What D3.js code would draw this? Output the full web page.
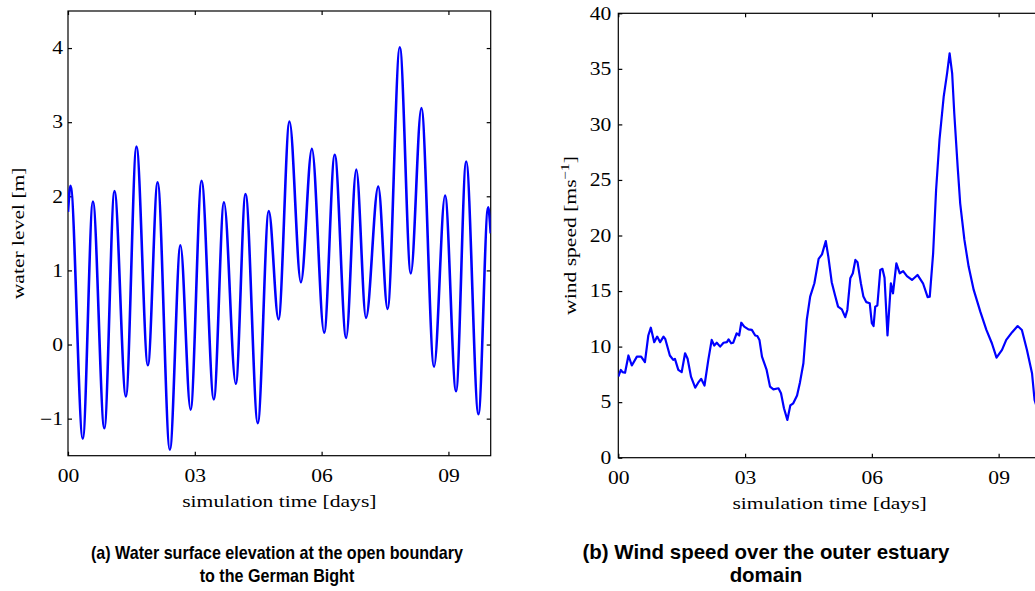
<!DOCTYPE html>
<html>
<head>
<meta charset="utf-8">
<script src="https://cdn.jsdelivr.net/npm/d3@7"></script>
<style>
body { margin: 0; background: #fff; }
svg { display: block; font-family: "Liberation Serif", "DejaVu Serif", serif; }
</style>
</head>
<body>
<div id="chart"></div>
<script>
var tideTime = [0, 0.06, 0.35, 0.59, 0.86, 1.10, 1.37, 1.62, 1.89, 2.12,
    2.41, 2.66, 2.90, 3.16, 3.45, 3.69, 3.97, 4.20, 4.49, 4.75,
    4.98, 5.24, 5.51, 5.77, 6.06, 6.31, 6.58, 6.82, 7.05, 7.34,
    7.56, 7.85, 8.11, 8.36, 8.66, 8.92, 9.18, 9.42, 9.71, 9.94, 10];
var tideLevel = [1.79, 2.14, -1.27, 1.93, -1.13, 2.07, -0.70, 2.67, -0.28, 2.19,
    -1.42, 1.34, -0.88, 2.21, -0.74, 1.92, -0.53, 2.03, -1.06, 1.80,
    0.34, 3.01, 0.84, 2.64, 0.16, 2.56, 0.09, 2.36, 0.36, 2.13,
    0.48, 4.01, 0.96, 3.19, -0.30, 2.01, -0.63, 2.47, -0.94, 1.85, 1.5];

// (b) wind speed [days, m/s]
var windTime = [0, 0.06, 0.10, 0.16, 0.24, 0.32, 0.44, 0.54, 0.63, 0.71,
    0.77, 0.85, 0.92, 0.99, 1.07, 1.11, 1.22, 1.30, 1.34, 1.42,
    1.50, 1.58, 1.64, 1.72, 1.82, 1.89, 1.96, 2.04, 2.13, 2.21,
    2.27, 2.33, 2.41, 2.49, 2.57, 2.61, 2.67, 2.72, 2.80, 2.86,
    2.91, 2.98, 3.08, 3.16, 3.24, 3.29, 3.34, 3.40, 3.51, 3.59,
    3.67, 3.79, 3.85, 3.92, 4.00, 4.07, 4.14, 4.23, 4.30, 4.38,
    4.46, 4.54, 4.64, 4.74, 4.82, 4.91, 4.97, 5.05, 5.13, 5.20,
    5.29, 5.37, 5.42, 5.49, 5.55, 5.61, 5.66, 5.74, 5.80, 5.87,
    5.95, 6.00, 6.04, 6.08, 6.13, 6.20, 6.25, 6.30, 6.37, 6.45,
    6.50, 6.58, 6.66, 6.74, 6.83, 6.95, 7.08, 7.21, 7.32, 7.37,
    7.45, 7.52, 7.60, 7.70, 7.78, 7.84, 7.90, 7.95, 8.03, 8.09,
    8.19, 8.29, 8.41, 8.57, 8.71, 8.84, 8.95, 9.08, 9.18, 9.32,
    9.45, 9.55, 9.67, 9.79, 9.85, 9.95];
var windSpeed = [7.3, 7.9, 7.7, 7.65, 9.2, 8.3, 9.1, 9.1, 8.6, 11.0,
    11.7, 10.4, 10.9, 10.4, 10.9, 10.7, 9.2, 8.8, 8.9, 7.9,
    7.7, 9.4, 8.9, 7.3, 6.3, 6.75, 7.1, 6.5, 8.8, 10.6,
    10.1, 10.35, 10.0, 10.35, 10.4, 10.65, 10.3, 10.35, 11.2, 11.0,
    12.15, 11.8, 11.55, 11.5, 11.0, 10.95, 10.6, 9.1, 7.9, 6.4,
    6.15, 6.25, 5.8, 4.45, 3.4, 4.7, 4.9, 5.6, 6.8, 8.5,
    12.4, 14.5, 15.7, 17.9, 18.3, 19.5, 18.1, 15.8, 14.6, 13.6,
    13.35, 12.65, 13.3, 16.15, 16.6, 17.8, 17.6, 15.7, 14.5, 14.0,
    13.9, 12.1, 11.85, 13.6, 13.7, 16.9, 17.0, 16.2, 11.0, 15.7,
    14.8, 17.5, 16.6, 16.8, 16.35, 16.0, 16.45, 15.7, 14.45, 14.5,
    18.4, 24.1, 28.6, 32.5, 34.6, 36.4, 34.6, 31.0, 26.2, 22.9,
    19.6, 17.2, 15.1, 13.1, 11.5, 10.3, 9.0, 9.7, 10.6, 11.3,
    11.85, 11.5, 9.7, 7.6, 5.2, 4.0];

var dayTicks = [0, 3, 6, 9];
var levelTicks = [-1, 0, 1, 2, 3, 4];
var speedTicks = [0, 5, 10, 15, 20, 25, 30, 35, 40];

var captionA = ["(a) Water surface elevation at the open boundary", "to the German Bight"];
var captionB = ["(b) Wind speed over the outer estuary", "domain"];

var svg = d3.select("#chart").append("svg")
    .attr("width", 1035)
    .attr("height", 591);

// the serif labels in the figure are a bit wider than the font
function stretch(sel, k) {
    sel.each(function () {
        var len = this.getComputedTextLength();
        d3.select(this).attr("textLength", len * k).attr("lengthAdjust", "spacingAndGlyphs");
    });
}

function drawPanel(p) {
    var x = d3.scaleLinear().domain([0, 10]).range([p.left, p.right]);
    var y = d3.scaleLinear().domain(p.yDomain).range([p.bottom, p.top]);
    var g = svg.append("g");

    g.append("rect")
        .attr("x", p.left).attr("y", p.top)
        .attr("width", p.right - p.left).attr("height", p.bottom - p.top)
        .attr("fill", "none").attr("stroke", "#000").attr("stroke-width", 1.2);

    var axes = [
        g.append("g").attr("transform", "translate(0," + p.bottom + ")")
            .call(d3.axisBottom(x).tickValues(dayTicks).tickFormat(d3.format("02d"))
                .tickSize(-4).tickSizeOuter(0).tickPadding(14)),
        g.append("g").attr("transform", "translate(0," + p.top + ")")
            .call(d3.axisTop(x).tickValues(dayTicks).tickFormat("").tickSize(-4).tickSizeOuter(0)),
        g.append("g").attr("transform", "translate(" + p.left + ",0)")
            .call(d3.axisLeft(y).tickValues(p.yTicks).tickFormat(d3.format("d"))
                .tickSize(-4).tickSizeOuter(0).tickPadding(p.yPad)),
        g.append("g").attr("transform", "translate(" + p.right + ",0)")
            .call(d3.axisRight(y).tickValues(p.yTicks).tickFormat("").tickSize(-4).tickSizeOuter(0))
    ];
    axes.forEach(function (a) {
        a.attr("font-family", null).attr("font-size", 18);
        a.select(".domain").remove();
        a.selectAll("line").attr("stroke", "#000").attr("stroke-width", 1.2);
        a.selectAll("text").attr("fill", "#000");
        stretch(a.selectAll("text"), 1.2);
    });

    svg.append("clipPath").attr("id", "clip-" + p.id)
        .append("rect")
        .attr("x", p.left).attr("y", p.top)
        .attr("width", p.right - p.left).attr("height", p.bottom - p.top);

    var points = p.times.map(function (t, i) { return [t, p.values[i]]; });
    var line = d3.line()
        .x(function (d) { return x(d[0]); })
        .y(function (d) { return y(d[1]); })
        .curve(p.curve);

    g.append("path")
        .datum(points)
        .attr("clip-path", "url(#clip-" + p.id + ")")
        .attr("fill", "none")
        .attr("stroke", "#0000ff")
        .attr("stroke-width", p.lineWidth)
        .attr("stroke-linejoin", "round")
        .attr("d", line);

    var xl = g.append("text")
        .attr("transform", "translate(" + ((p.left + p.right) / 2) + "," + (p.bottom + 51) + ")")
        .attr("text-anchor", "middle")
        .attr("font-size", 17)
        .text("simulation time [days]");
    stretch(xl, 1.27);

    var yl = g.append("text")
        .attr("transform", "translate(" + p.yLabelX + "," + ((p.top + p.bottom) / 2) + ") rotate(-90) scale(1.27,1)")
        .attr("text-anchor", "middle")
        .attr("font-size", 17);
    p.yLabel(yl);

    // captions use a condensed bold sans: fit line 1 to its width, line 2 gets the same squeeze
    var cap = g.append("g")
        .attr("font-family", "'Liberation Sans', Arial, sans-serif")
        .attr("font-weight", "bold")
        .attr("font-size", p.captionSize)
        .attr("text-anchor", "middle");
    var rows = cap.selectAll("text")
        .data(p.caption)
        .join("text")
        .attr("x", p.captionX)
        .attr("y", function (d, i) { return 559 + i * 23; })
        .text(function (d) { return d; });
    stretch(rows, p.captionWidth / rows.node().getComputedTextLength());
}

drawPanel({
    id: "tide",
    left: 68, right: 490.7, top: 11, bottom: 455.7,
    yDomain: [-1.5, 4.5], yTicks: levelTicks, yPad: 5,
    times: tideTime, values: tideLevel,
    curve: d3.curveMonotoneX, lineWidth: 2.6,
    yLabelX: 24,
    yLabel: function (t) { t.text("water level [m]"); },
    caption: captionA, captionX: 277, captionSize: 19, captionWidth: 372
});

drawPanel({
    id: "wind",
    left: 618.3, right: 1040.9, top: 13.3, bottom: 457.7,
    yDomain: [0, 40], yTicks: speedTicks, yPad: 7,
    times: windTime, values: windSpeed,
    curve: d3.curveLinear, lineWidth: 2.2,
    yLabelX: 576,
    yLabel: function (t) {
        t.append("tspan").text("wind speed [ms");
        t.append("tspan").attr("font-size", 12).attr("dy", -7).text("\u22121");
        t.append("tspan").attr("dy", 7).text("]");
    },
    caption: captionB, captionX: 766, captionSize: 21, captionWidth: 367
});
</script>
</body>
</html>
